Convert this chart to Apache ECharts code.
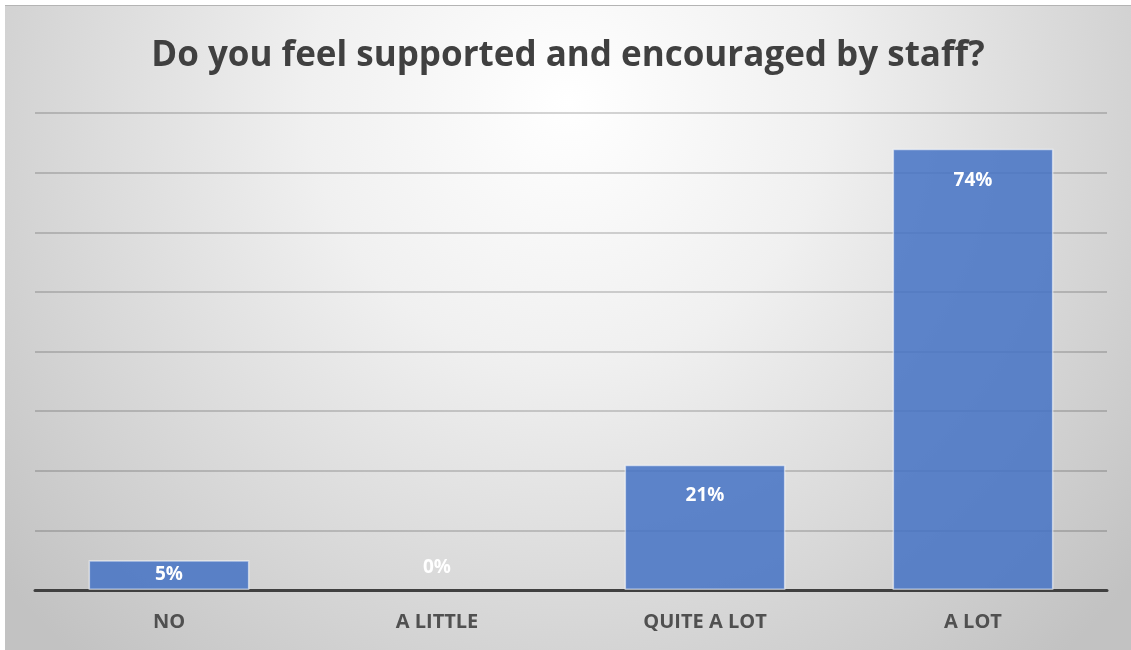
<!DOCTYPE html>
<html>
<head>
<meta charset="utf-8">
<script src="https://cdn.jsdelivr.net/npm/echarts@6/dist/echarts.min.js"></script>
<style>
  html, body { margin: 0; padding: 0; background: #ffffff; width: 1131px; height: 650px; overflow: hidden; }
  #chart { position: absolute; left: 5px; top: 5px; width: 1126px; height: 645px; border-top: 1px solid #b4b4b4; box-sizing: border-box; }
</style>
</head>
<body>
<div id="chart"></div>
<script>
const titleText = 'Do you feel supported and encouraged by staff?';
const categories = ['NO', 'A LITTLE', 'QUITE A LOT', 'A LOT'];
const values = [5, 0, 21, 74];
const yMin = 0, yMax = 80, yInterval = 10;

const chart = echarts.init(document.getElementById('chart'));
const labelDist = [5, 13, 21, 22];
const seriesData = values.map((v, i) => ({
  value: v,
  itemStyle: v === 0 ? { borderWidth: 0 } : undefined,
  label: v === 0 ? { position: 'top', distance: labelDist[i] } : { position: 'insideTop', distance: labelDist[i] }
}));

chart.setOption({
  backgroundColor: {
    type: 'radial', x: 0.5, y: 0.15, r: 1.15,
    colorStops: [
      { offset: 0, color: '#ffffff' },
      { offset: 0.35, color: '#f0f0f0' },
      { offset: 1, color: '#c2c2c2' }
    ]
  },
  title: {
    text: titleText,
    left: 'center',
    top: 28,
    textStyle: { fontFamily: 'Open Sans', fontWeight: 'bold', fontSize: 35, color: '#404040' }
  },
  grid: { left: 30, right: 24, top: 107, bottom: 60, containLabel: false },
  xAxis: {
    type: 'category',
    data: categories,
    axisLine: { lineStyle: { color: '#404040', width: 3 } },
    axisTick: { show: false },
    axisLabel: { color: '#505050', fontFamily: 'Open Sans', fontWeight: 'bold', fontSize: 20, margin: 22 }
  },
  yAxis: {
    type: 'value',
    min: yMin, max: yMax, interval: yInterval,
    axisLabel: { show: false },
    axisLine: { show: false },
    axisTick: { show: false },
    splitLine: { lineStyle: { color: 'rgba(0,0,0,0.22)', width: 1.5 } }
  },
  series: [{
    type: 'bar',
    data: seriesData,
    barCategoryGap: '40%',
    itemStyle: { color: 'rgba(68,114,196,0.85)', borderColor: 'rgba(255,255,255,0.55)', borderWidth: 1.5 },
    label: {
      show: true,
      formatter: '{c}%',
      color: '#ffffff',
      fontFamily: 'Open Sans',
      fontWeight: 'bold',
      fontSize: 19
    }
  }]
});
</script>
</body>
</html>
